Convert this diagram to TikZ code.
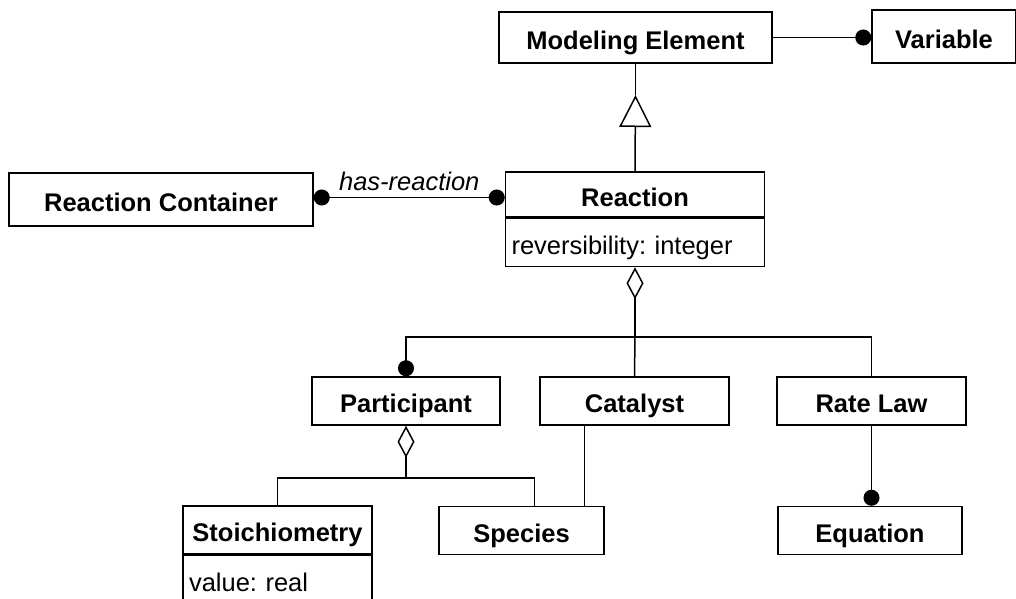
\documentclass[tikz,border=0pt]{standalone}
\usepackage{fontspec}
\setmainfont{Liberation Sans}
\frenchspacing
\usetikzlibrary{arrows.meta, positioning, calc}

\begin{document}
\begin{tikzpicture}[x=1pt, y=-1pt, line width=1.5pt,
    cls/.style={draw, inner sep=0pt, minimum height=48pt, text height=25pt, text depth=1.5pt, font=\bfseries\fontsize{25.5}{30}\selectfont},
    attr/.style={draw, anchor=north, align=left, inner xsep=6pt, minimum height=48pt, text height=25pt, text depth=1.5pt, font=\fontsize{25.5}{30}\selectfont},
    dot/.style={-{Circle[length=16pt]}},
    agg/.style={{Diamond[open, length=32pt, width=17pt]}-},
    gen/.style={-{Triangle[open, length=32pt, width=32pt]}}]
  \useasboundingbox (0,0) rectangle (1016,598);
  % classes
  \node[cls, minimum width=273pt, minimum height=51pt] (modeling) at (635.5,37.5) {Modeling Element};
  \node[cls, minimum width=144pt, minimum height=53pt] (variable) at (944,36.5) {Variable};
  \node[cls, minimum width=304pt, minimum height=53pt] (container) at (161,199.5) {Reaction Container};
  \node[cls, minimum width=259pt, minimum height=45pt] (reaction) at (635,194.5) {Reaction};
  \node[attr, text width=247pt] (reactattr) at (reaction.south) {reversibility: integer};
  \node[cls, minimum width=188pt] (participant) at (406,401) {Participant};
  \node[cls, minimum width=189pt] (catalyst) at (634.5,401) {Catalyst};
  \node[cls, minimum width=189pt] (ratelaw) at (871.5,401) {Rate Law};
  \node[cls, minimum width=189pt] (stoich) at (277.5,530) {Stoichiometry};
  \node[attr, text width=177pt] (stoichattr) at (stoich.south) {value: real};
  \node[cls, minimum width=165pt] (species) at (521.5,530.5) {Species};
  \node[cls, minimum width=184pt] (equation) at (870,530.5) {Equation};

  % associations
  \draw[dot] (modeling.east) -- (modeling.east -| variable.west);
  \draw[{Circle[length=16pt]}-{Circle[length=16pt]}] ([yshift=2pt]container.east) -- ([yshift=2pt]container.east -| reaction.west)
    node[midway, above=3pt, font=\itshape\fontsize{25.5}{30}\selectfont] (hasreaction) {has-reaction};

  % generalization
  \coordinate (gentip) at (modeling.south |- 0,95);
  \draw[gen] (reaction.north) -- (gentip);
  \draw (gentip) -- (modeling.south);

  % aggregation of reaction
  \coordinate (rjoin) at (reactattr.south |- 0,337);
  \draw[agg] (reactattr.south) -- (rjoin);
  \draw[dot] (rjoin) -| (participant.north);
  \draw (rjoin) -- (catalyst.north);
  \draw (rjoin) -| (ratelaw.north);

  % aggregation of participant
  \coordinate (pjoin) at (participant.south |- 0,478);
  \draw[agg] (participant.south) -- (pjoin);
  \draw (pjoin) -| (stoich.north);
  \draw (pjoin) -| ([xshift=13pt]species.north);

  \draw ([xshift=-50pt]catalyst.south) -- ([xshift=-50pt]catalyst.south |- species.north);
  \draw[dot] (ratelaw.south) -- (ratelaw.south |- equation.north);
\end{tikzpicture}
\end{document}
